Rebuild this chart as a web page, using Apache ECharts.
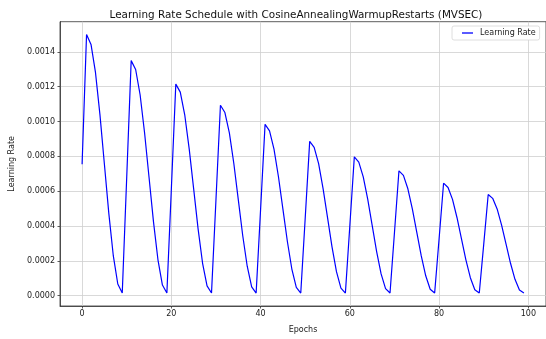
<!DOCTYPE html>
<html>
<head>
<meta charset="utf-8">
<script src="https://cdn.jsdelivr.net/npm/echarts@6/dist/echarts.min.js"></script>
<style>
  html, body { margin: 0; padding: 0; background: #fff; }
  #main { width: 546px; height: 339px; }
</style>
</head>
<body>
<div id="main"></div>
<script>
// learning rate per epoch (10-epoch cycles, peak decays)
var lrValues = [
    0.000755, 0.0015, 0.001443, 0.001282, 0.00104, 0.000755, 0.00047, 0.000228, 0.000067, 0.000015,
    0.00068, 0.00135, 0.001299, 0.001154, 0.000936, 0.00068, 0.000424, 0.000206, 0.000061, 0.000015,
    0.000613, 0.001215, 0.001169, 0.001039, 0.000843, 0.000613, 0.000382, 0.000186, 0.000056, 0.000015,
    0.000552, 0.0010935, 0.001052, 0.000935, 0.000759, 0.000552, 0.000344, 0.000169, 0.000051, 0.000015,
    0.000497, 0.000984, 0.000947, 0.000842, 0.000683, 0.000497, 0.000311, 0.000153, 0.000047, 0.000015,
    0.000448, 0.000886, 0.000852, 0.000758, 0.000615, 0.000448, 0.00028, 0.000138, 0.000043, 0.000015,
    0.000404, 0.000797, 0.000767, 0.000682, 0.000554, 0.000404, 0.000253, 0.000125, 0.00004, 0.000015,
    0.000364, 0.000717, 0.000691, 0.000614, 0.000499, 0.000364, 0.000228, 0.000114, 0.000037, 0.000015,
    0.000328, 0.000646, 0.000621, 0.000553, 0.000449, 0.000328, 0.000206, 0.000103, 0.000034, 0.000015,
    0.000296, 0.000581, 0.000559, 0.000498, 0.000405, 0.000296, 0.000186, 0.000094, 0.000032, 0.000015
];
var epochs = lrValues.map(function(v, i) { return i; });
var xTicks = [0, 20, 40, 60, 80, 100];
var yTicks = [0, 0.0002, 0.0004, 0.0006, 0.0008, 0.001, 0.0012, 0.0014];

var points = [];
epochs.forEach(function(e, i) {
    points.push([e, lrValues[i]]);
});

var tickFont = { fontFamily: 'DejaVu Sans', fontSize: 8, color: '#222' };

var option = {
    animation: false,
    backgroundColor: '#fff',
    title: {
        text: 'Learning Rate Schedule with CosineAnnealingWarmupRestarts (MVSEC)',
        left: 291,
        textAlign: 'center',
        top: 5,
        textStyle: { fontFamily: 'DejaVu Sans', fontSize: 10.4, fontWeight: 'normal', color: '#111' }
    },
    legend: {
        left: 452,
        top: 26,
        padding: [3, 4, 3, 10],
        icon: 'rect',
        itemWidth: 11,
        itemHeight: 1.3,
        backgroundColor: '#fff',
        borderColor: '#d6d6d6',
        borderWidth: 0.8,
        borderRadius: 2,
        textStyle: { fontFamily: 'DejaVu Sans', fontSize: 8, color: '#222', padding: [0, 0, 0, 2] },
        data: ['Learning Rate']
    },
    grid: {
        left: 60,
        top: 21.7,
        width: 490,
        height: 291.6,
        show: true,
        borderColor: '#333',
        borderWidth: 0.8,
        containLabel: false
    },
    xAxis: {
        type: 'value',
        min: -4.95,
        max: 103.95,
        name: 'Epochs',
        nameLocation: 'middle',
        nameGap: 20,
        nameTextStyle: tickFont,
        axisLine: { show: true, onZero: false, lineStyle: { color: '#333', width: 0.8 } },
        axisTick: { show: true, length: 2.5, customValues: xTicks, lineStyle: { color: '#333', width: 0.8 } },
        axisLabel: {
            customValues: xTicks,
            margin: 4,
            fontFamily: 'DejaVu Sans', fontSize: 8, color: '#222',
            formatter: function(v) { return String(v); }
        },
        splitLine: { show: true, lineStyle: { color: '#cfcfcf', width: 0.8 } }
    },
    yAxis: {
        type: 'value',
        min: -0.0000594,
        max: 0.0015736,
        name: 'Learning Rate',
        nameLocation: 'middle',
        nameGap: 43,
        nameTextStyle: tickFont,
        axisLine: { show: true, onZero: false, lineStyle: { color: '#333', width: 0.8 } },
        axisTick: { show: true, length: 2.5, customValues: yTicks, lineStyle: { color: '#333', width: 0.8 } },
        axisLabel: {
            customValues: yTicks,
            margin: 5,
            fontFamily: 'DejaVu Sans', fontSize: 8, color: '#222',
            formatter: function(v) { return v.toFixed(4); }
        },
        splitLine: { show: true, lineStyle: { color: '#cfcfcf', width: 0.8 } }
    },
    series: [{
        name: 'Learning Rate',
        type: 'line',
        symbol: 'none',
        color: '#0000ff',
        lineStyle: { color: '#0000ff', width: 1.2 },
        data: points
    }]
};

var myChart = echarts.init(document.getElementById('main'));
myChart.setOption(option);
</script>
</body>
</html>
